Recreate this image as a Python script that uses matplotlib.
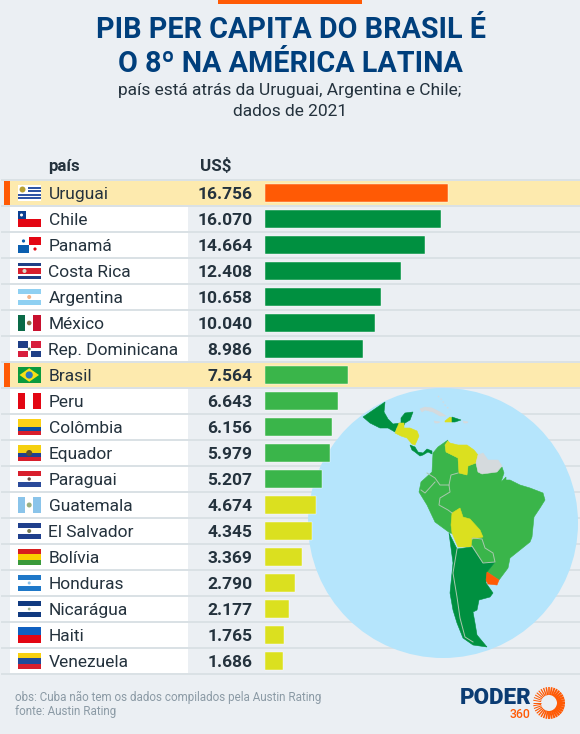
import numpy as np
import matplotlib
matplotlib.use("Agg")
import matplotlib.pyplot as plt
from matplotlib.patches import Rectangle, Polygon, Circle

plt.rcParams['font.family'] = ['Roboto', 'DejaVu Sans']

paises = ["Uruguai", "Chile", "Panamá", "Costa Rica", "Argentina", "México",
          "Rep. Dominicana", "Brasil", "Peru", "Colômbia", "Equador", "Paraguai",
          "Guatemala", "El Salvador", "Bolívia", "Honduras", "Nicarágua", "Haiti",
          "Venezuela"]
pib = [16756, 16070, 14664, 12408, 10658, 10040, 8986, 7564, 6643, 6156, 5979,
       5207, 4674, 4345, 3369, 2790, 2177, 1765, 1686]
destaques = ["Uruguai", "Brasil"]

BG = "#ebeff3"
LINHA = "#d6dde2"
TEXTO = "#24323d"
AZUL = "#003f7c"
LARANJA = "#ff5a05"
VERDE_ESC = "#009040"
VERDE = "#3ab54a"
AMARELO = "#dbe01f"
CINZA_MAPA = "#d5dadd"


def cor_barra(v):
    if v == max(pib):
        return LARANJA
    if v >= 8000:
        return VERDE_ESC
    if v >= 5000:
        return VERDE
    return AMARELO


fig = plt.figure(figsize=(5.8, 7.34), dpi=100, facecolor=BG)

# fundo em coordenadas de pixel
ax = fig.add_axes([0, 0, 1, 1])
ax.set_xlim(0, 580)
ax.set_ylim(734, 0)
ax.axis("off")

ax.add_patch(Rectangle((218, 0), 144, 3.5, color=LARANJA, lw=0))
ax.text(290.5, 30.5, "PIB PER CAPITA DO BRASIL É", ha="center", va="center",
        fontsize=20.7, fontweight="bold", color=AZUL)
ax.text(290, 64.5, "O 8º NA AMÉRICA LATINA", ha="center", va="center",
        fontsize=20.7, fontweight="bold", color=AZUL)
ax.text(290, 91, "país está atrás da Uruguai, Argentina e Chile;", ha="center",
        va="center", fontsize=12.5, color=TEXTO)
ax.text(290, 112, "dados de 2021", ha="center", va="center", fontsize=12.5, color=TEXTO)

ax.text(48, 166, "país", va="center", fontsize=12.2, fontweight="bold", color=TEXTO)
ax.text(200, 166, "US$", va="center", fontsize=12.2, fontweight="bold", color=TEXTO)

ROW_H = 26
TOPO = 180


def centro(i):
    return TOPO + ROW_H * i + ROW_H / 2


for i, nome in enumerate(paises):
    y0 = TOPO + ROW_H * i
    if nome in destaques:
        ax.add_patch(Rectangle((10, y0 + 1), 570, ROW_H - 2, color="#fdeaae", lw=0))
        ax.add_patch(Rectangle((4, y0 + 1), 6, ROW_H - 2, color=LARANJA, lw=0))
    else:
        ax.add_patch(Rectangle((10, y0 + 1), 178, ROW_H - 2, color="white", lw=0))
for i in range(len(paises) + 1):
    y0 = TOPO + ROW_H * i
    ax.plot([1, 580], [y0, y0], color=LINHA, lw=1.1, solid_capstyle="butt")


# bandeiras
def faixas_h(y, cores, pesos=None):
    pesos = pesos or [1] * len(cores)
    total = sum(pesos)
    yy = y - 8
    for c, p in zip(cores, pesos):
        h = 16 * p / total
        ax.add_patch(Rectangle((17.5, yy), 23.5, h, color=c, lw=0, zorder=3))
        yy += h


def faixas_v(y, cores):
    w = 23.5 / len(cores)
    for k, c in enumerate(cores):
        ax.add_patch(Rectangle((17.5 + k * w, y - 8), w, 16, color=c, lw=0, zorder=3))


def ret(x, y, w, h, c):
    ax.add_patch(Rectangle((17.5 + x, y - 8), w, h, color=c, lw=0, zorder=4))


def ponto(x, y, r, c):
    ax.add_patch(Circle((17.5 + x, y), r, color=c, lw=0, zorder=5))


def bandeira(nome, y):
    if nome == "Uruguai":
        faixas_h(y, ["white", "#2f55a4"] * 4 + ["white"])
        ret(0, y, 10, 9, "white")
        ponto(5, y - 3.5, 3, "#b8a030")
    elif nome == "Chile":
        faixas_h(y, ["white", "#e30613"])
        ret(0, y, 8, 8, "#0b3f92")
        ponto(4, y - 4, 1.5, "white")
    elif nome == "Panamá":
        faixas_h(y, ["white", "white"])
        ax.add_patch(Rectangle((29.2, y - 8), 11.8, 8, color="#e30613", lw=0, zorder=4))
        ax.add_patch(Rectangle((17.5, y), 11.7, 8, color="#0b5fb0", lw=0, zorder=4))
        ponto(6, y - 4, 1.6, "#0b5fb0")
        ponto(17.5, y + 4, 1.6, "#e30613")
    elif nome == "Costa Rica":
        faixas_h(y, ["#1f3f86", "white", "#d81e2c", "white", "#1f3f86"], [1, 1, 2, 1, 1])
        ponto(7, y, 2, "#d9d9c8")
    elif nome == "Argentina":
        faixas_h(y, ["#8fd0f2", "white", "#8fd0f2"])
        ponto(11.7, y, 2, "#f2b48a")
    elif nome == "México":
        faixas_v(y, ["#0a6a47", "white", "#c8102e"])
        ponto(11.7, y, 2.3, "#8a7048")
    elif nome == "Rep. Dominicana":
        faixas_h(y, ["white"])
        for dx, dy, c in [(0, -8, "#1f3f86"), (13.2, -8, "#d81e3c"),
                          (0, 1.5, "#d81e3c"), (13.2, 1.5, "#1f3f86")]:
            ax.add_patch(Rectangle((17.5 + dx, y + dy), 10.3, 6.5, color=c, lw=0, zorder=4))
        ponto(11.7, y, 1.5, "#4a6a50")
    elif nome == "Brasil":
        faixas_h(y, ["#0a9a3e"])
        ax.add_patch(Polygon([(19.5, y), (29.2, y - 6.8), (39, y), (29.2, y + 6.8)],
                             color="#f7e017", lw=0, zorder=4))
        ponto(11.7, y, 3.6, "#2a78c0")
    elif nome == "Peru":
        faixas_v(y, ["#e30613", "white", "#e30613"])
    elif nome == "Colômbia":
        faixas_h(y, ["#fcd116", "#0b4ea2", "#d81e2c"], [2, 1, 1])
    elif nome == "Equador":
        faixas_h(y, ["#f5d010", "#203f90", "#d81e2c"], [2, 1, 1])
        ponto(11.7, y, 3, "#5a5030")
    elif nome == "Paraguai":
        faixas_h(y, ["#d81e2c", "white", "#2a4a9a"])
        ponto(11.7, y, 1.7, "#6a4a40")
    elif nome == "Guatemala":
        faixas_v(y, ["#8ac4ea", "white", "#8ac4ea"])
        ponto(11.7, y, 2.5, "#9ab080")
    elif nome == "El Salvador":
        faixas_h(y, ["#1f3f8c", "white", "#1f3f8c"])
        ponto(11.7, y, 2, "#7a7a50")
    elif nome == "Bolívia":
        faixas_h(y, ["#d81e1e", "#fbd000", "#3a9a3a"])
    elif nome == "Honduras":
        faixas_h(y, ["#1f78c8", "white", "#1f78c8"])
        ponto(11.7, y, 1.5, "#8ac0e8")
    elif nome == "Nicarágua":
        faixas_h(y, ["#113a80", "white", "#113a80"])
        ponto(11.7, y, 1.4, "#9ab090")
    elif nome == "Haiti":
        faixas_h(y, ["#1060c0", "#e30613"])
    elif nome == "Venezuela":
        faixas_h(y, ["#f8d010", "#1f4a9a", "#d81e2c"])


for i, nome in enumerate(paises):
    y = centro(i)
    bandeira(nome, y)
    ax.text(48.5, y, nome, va="center_baseline", fontsize=12.55, color=TEXTO)
    valor = f"{pib[i]:,}".replace(",", ".")
    ax.text(252.5, y, valor, ha="right", va="center_baseline", fontsize=12.5,
            fontweight="bold", color=TEXTO)

# mapa
ax.add_patch(Circle((443, 523), 135, color="#b5e5fc", lw=0, zorder=5))

mapa = [
    (VERDE, [(448, 440), (445, 445), (446, 452), (458, 458), (459, 473), (467, 475),
             (468, 466), (476, 463), (478, 472), (490, 473), (500, 468), (502, 467),
             (504, 473), (501, 482), (506, 477), (506, 480), (510, 480), (520, 485),
             (530, 488), (543, 493), (545, 500), (540, 508), (534, 517), (532, 537),
             (530, 542), (520, 550), (510, 558), (508, 568), (499, 580), (487, 572),
             (495, 562), (483, 563), (472, 546), (462, 535), (450, 533), (435, 522),
             (427, 505), (419, 492), (421, 482), (432, 472), (433, 453), (438, 447)]),
    (AMARELO, [(448, 441), (445, 445), (446, 452), (458, 458), (459, 473), (467, 475),
               (468, 466), (476, 463), (478, 455), (474, 450), (467, 445), (458, 445),
               (450, 443)]),
    (CINZA_MAPA, [(476, 463), (478, 455), (483, 453), (488, 460), (498, 460), (502, 466),
                  (497, 472), (482, 474), (478, 472)]),
    (AMARELO, [(452, 513), (460, 508), (463, 517), (470, 519), (480, 530), (483, 537),
               (472, 539), (471, 547), (458, 547), (452, 533), (451, 525)]),
    (VERDE_ESC, [(449, 533), (457, 549), (472, 547), (483, 563), (495, 562), (487, 572),
                 (486, 583), (493, 593), (490, 597), (479, 600), (477, 610), (473, 612),
                 (475, 623), (477, 635), (487, 647), (473, 645), (463, 638), (457, 623),
                 (453, 610), (450, 593), (453, 563)]),
    (LARANJA, [(487, 572), (499, 580), (497, 585), (488, 584), (486, 580)]),
    (VERDE_ESC, [(363, 417), (385, 402), (384, 412), (388, 419), (393, 424), (401, 423),
                 (401, 418), (405, 413), (413, 412), (410, 420), (405, 423), (403, 427),
                 (397, 427), (395, 432), (388, 428), (380, 428), (370, 423)]),
    (AMARELO, [(399, 423), (404, 423), (404, 428), (410, 428), (417, 431), (419, 436),
               (415, 445), (412, 444), (407, 438), (401, 436), (395, 433), (397, 428)]),
    (VERDE_ESC, [(410, 445), (415, 447), (418, 452), (423, 453), (427, 449), (432, 451),
                 (432, 454), (428, 452), (423, 455), (420, 456), (415, 452), (412, 450)]),
    (CINZA_MAPA, [(420, 409), (425, 407), (432, 408), (440, 412), (446, 416), (440, 416),
                  (433, 412), (425, 410), (422, 412)]),
    (CINZA_MAPA, [(434, 421), (440, 422), (438, 423), (435, 423)]),
    (CINZA_MAPA, [(463, 421), (468, 422), (467, 423), (464, 423)]),
    (AMARELO, [(445, 421), (450, 417), (452, 418), (452, 422), (445, 422)]),
    (VERDE_ESC, [(452, 417), (461, 420), (455, 422), (452, 422)]),
]
for cor, pts in mapa:
    ax.add_patch(Polygon(pts, closed=True, facecolor=cor, edgecolor=cor, lw=0.4, zorder=6))

fronteiras = [
    [(457, 549), (453, 573), (457, 597), (460, 618), (465, 637), (473, 642)],
    [(427, 473), (435, 478), (440, 485), (449, 485), (450, 492), (440, 498), (439, 505),
     (448, 510), (452, 513)],
    [(449, 485), (451, 475), (458, 473)],
    [(421, 490), (425, 493), (435, 482)],
    [(472, 539), (473, 538), (482, 539), (485, 548), (493, 553), (495, 562), (483, 563),
     (472, 546)],
]
for linha in fronteiras:
    xs, ys = zip(*linha)
    ax.plot(xs, ys, color="#a9c8ae", lw=0.7, zorder=7)
xs, ys = zip(*[(438, 396), (442, 400), (445, 405), (450, 410)])
ax.plot(xs, ys, color=CINZA_MAPA, lw=1, ls=":", zorder=7)

# barras
ax_b = fig.add_axes([265 / 580, 1 - 674 / 734, 315 / 580, 494 / 734])
ax_b.patch.set_alpha(0)
ax_b.set_xlim(0, 16756 * 315 / 183)
ax_b.set_ylim(len(paises) - 0.5, -0.5)
ax_b.axis("off")
ax_b.barh(range(len(paises)), pib, height=17.5 / 26, color=[cor_barra(v) for v in pib],
          edgecolor="white", linewidth=0.3)

# rodapé
ax.text(15, 697, "obs: Cuba não tem os dados compilados pela Austin Rating", va="center",
        fontsize=8.35, color="#8b9aa5")
ax.text(15, 711, "fonte: Austin Rating", va="center", fontsize=8.35, color="#8b9aa5")

# logo
ax.text(460, 698, "PODER", va="center", fontsize=16.1, fontweight="black", color="#0b3c73")
ax.text(530, 715, "360", ha="right", va="center", fontsize=8.8, fontweight="medium",
        color=LARANJA)
for ang in np.arange(0, 360, 10):
    a = np.radians(ang)
    esp = 0.7 + 1.1 * (1 + np.cos(a - np.radians(10))) / 2
    ax.plot([549 + 8 * np.cos(a), 549 + 16 * np.cos(a)],
            [703 + 8 * np.sin(a), 703 + 16 * np.sin(a)],
            color=LARANJA, lw=esp, solid_capstyle="butt")

fig.savefig("out.png", dpi=100, facecolor=BG)
